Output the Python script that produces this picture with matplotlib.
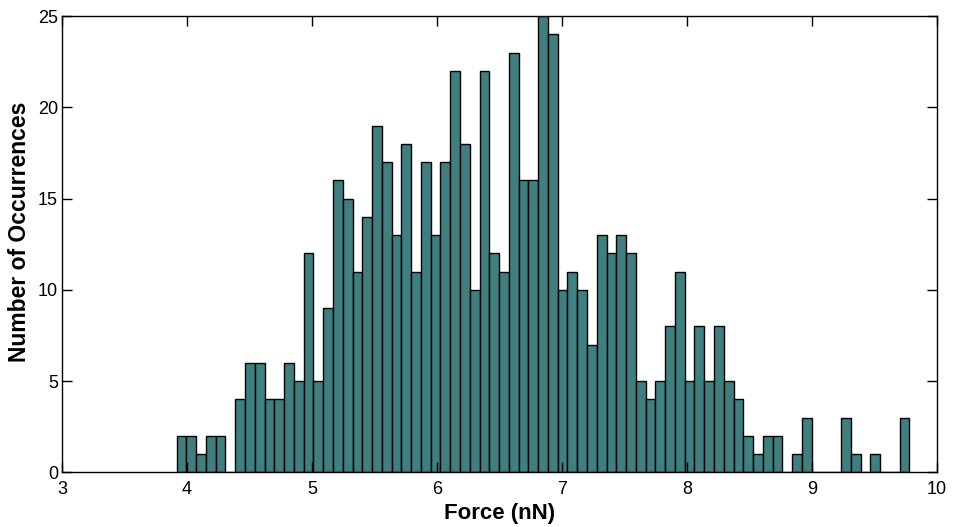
import matplotlib
matplotlib.use("Agg")
import matplotlib.pyplot as plt
import numpy as np

# histogram of forces: bins start at 3.917 nN, width ~0.0782 nN
bin_start = 3.917
bin_width = 0.0782
counts = [2, 2, 1, 2, 2, 0, 4, 6, 6, 4, 4, 6, 5, 12, 5, 9, 16, 15, 11,
          14, 19, 17, 13, 18, 11, 17, 13, 17, 22, 18, 10, 22, 12, 11, 23,
          16, 16, 25, 24, 10, 11, 10, 7, 13, 12, 13, 12, 5, 4, 5, 8, 11,
          5, 8, 5, 8, 5, 4, 2, 1, 2, 2, 0, 1, 3, 0, 0, 0, 3, 1, 0, 1, 0, 0, 3]

xticks = [3, 4, 5, 6, 7, 8, 9, 10]
yticks = [0, 5, 10, 15, 20, 25]

plt.rcParams['font.family'] = ['Liberation Sans', 'DejaVu Sans']

fig = plt.figure(figsize=(9.56, 5.27), dpi=100)
ax = fig.add_axes([0.0649, 0.1038, 0.9149, 0.8658])

left = bin_start + bin_width * np.arange(len(counts))
ax.bar(left, counts, width=bin_width, align='edge',
       color='#3f7f7f', edgecolor='black', linewidth=1.0)

ax.set_xlim(3, 10)
ax.set_ylim(0, 25)
ax.set_xticks(xticks)
ax.set_yticks(yticks)
ax.tick_params(direction='in', length=7, width=1, labelsize=13,
               top=True, right=True)
ax.tick_params(axis='x', pad=6)
ax.tick_params(axis='y', pad=3)
for s in ax.spines.values():
    s.set_linewidth(1.0)

ax.set_xlabel('Force (nN)', fontsize=16, fontweight='bold', labelpad=4)
ax.set_ylabel('Number of Occurrences', fontsize=16.5, fontweight='bold')
ax.yaxis.set_label_coords(-0.036, 0.528)

plt.savefig('out.png', dpi=100)
plt.close()
